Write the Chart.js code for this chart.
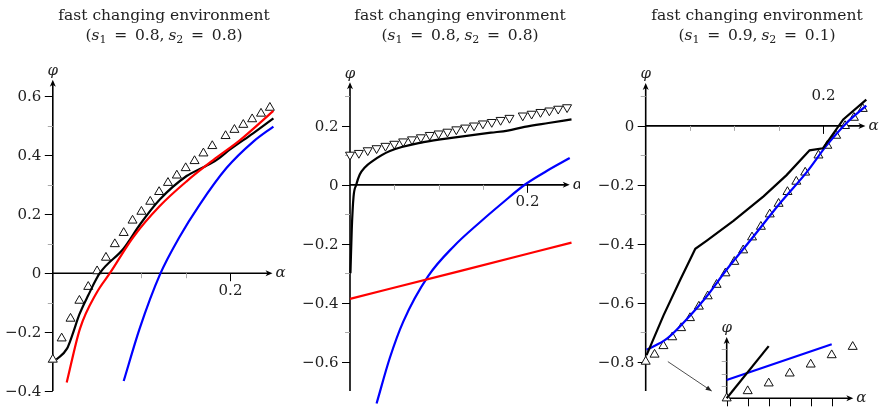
<!DOCTYPE html>
<html lang="en">
<head>
  <meta charset="UTF-8">
  <title>fast changing environment</title>
  <script src="https://cdn.jsdelivr.net/npm/chart.js"></script>
  <style>
    body {
      margin: 0;
      background: #ffffff;
      font-family: 'DejaVu Serif', serif;
    }
    #wrap {
      position: relative;
      width: 880px;
      height: 412px;
    }
    .panel {
      position: absolute;
      top: 0;
      height: 412px;
    }
  </style>
</head>
<body>

<div id="wrap">
  <div class="panel" style="left:0;width:290px"><canvas id="panel1"></canvas></div>
  <div class="panel" style="left:290px;width:290px"><canvas id="panel2"></canvas></div>
  <div class="panel" style="left:580px;width:300px"><canvas id="panel3"></canvas></div>
  <div class="panel" style="left:700px;top:320px;width:180px;height:92px"><canvas id="inset"></canvas></div>
</div>

<script>
  // alpha positions of the triangle marks (shared by all panels)
  const alphaMarks = [0, 0.01, 0.02, 0.03, 0.04, 0.05, 0.06, 0.07, 0.08, 0.09, 0.10, 0.11, 0.12,
    0.13, 0.14, 0.15, 0.16, 0.17, 0.18, 0.195, 0.205, 0.215, 0.225, 0.235, 0.245];

  // panel 1 (s1 = 0.8, s2 = 0.8)
  const phiMarks1 = [-0.293, -0.221, -0.154, -0.093, -0.046, 0.007, 0.053, 0.099, 0.137, 0.179, 0.209, 0.243,
    0.276, 0.307, 0.332, 0.357, 0.381, 0.407, 0.432, 0.466, 0.487, 0.504, 0.523, 0.542, 0.562];
  const blackAlpha1 = [0.004, 0.016, 0.022, 0.03, 0.04, 0.053, 0.08, 0.099, 0.121, 0.151, 0.17, 0.185, 0.2, 0.226, 0.249];
  const blackPhi1 = [-0.293, -0.256, -0.21, -0.14, -0.075, 0, 0.084, 0.168, 0.251, 0.33, 0.36, 0.385, 0.42, 0.475, 0.526];
  const redAlpha1 = [0.0157, 0.0307, 0.0495, 0.0646, 0.0909, 0.121, 0.151, 0.181, 0.211, 0.249];
  const redPhi1 = [-0.371, -0.188, -0.066, 0.001, 0.123, 0.229, 0.312, 0.384, 0.451, 0.551];
  const blueAlpha1 = [0.080, 0.098, 0.121, 0.143, 0.166, 0.196, 0.226, 0.249];
  const bluePhi1 = [-0.366, -0.188, -0.004, 0.123, 0.234, 0.357, 0.446, 0.498];

  // panel 2 (s1 = 0.8, s2 = 0.8)
  const phiMarks2 = [0.102, 0.108, 0.117, 0.124, 0.132, 0.139, 0.147, 0.154, 0.161, 0.169, 0.174, 0.180,
    0.188, 0.194, 0.201, 0.208, 0.213, 0.220, 0.227, 0.235, 0.241, 0.247, 0.252, 0.258, 0.263];
  const blackAlpha2 = [0.0005, 0.002, 0.004, 0.007, 0.011, 0.017, 0.025, 0.045, 0.083, 0.121, 0.159, 0.178, 0.197, 0.224, 0.25];
  const blackPhi2 = [-0.3, -0.15, -0.04, 0, 0.035, 0.06, 0.08, 0.115, 0.145, 0.162, 0.177, 0.184, 0.197, 0.21, 0.222];
  const redAlpha2 = [0, 0.125, 0.25];
  const redPhi2 = [-0.387, -0.292, -0.196];
  const blueAlpha2 = [0.030, 0.045, 0.060, 0.0884, 0.117, 0.147, 0.173, 0.198, 0.222, 0.248];
  const bluePhi2 = [-0.742, -0.587, -0.465, -0.309, -0.209, -0.126, -0.059, 0.002, 0.047, 0.091];

  // panel 3 (s1 = 0.9, s2 = 0.1)
  const phiMarks3 = [-0.8, -0.776, -0.747, -0.717, -0.686, -0.652, -0.613, -0.578, -0.539, -0.5, -0.461, -0.422,
    -0.378, -0.342, -0.3, -0.264, -0.224, -0.189, -0.158, -0.1, -0.067, -0.033, 0, 0.028, 0.058];
  const blackAlpha3 = [0.001, 0.02, 0.039, 0.056, 0.069, 0.099, 0.133, 0.159, 0.185, 0.2, 0.223, 0.249];
  const blackPhi3 = [-0.778, -0.644, -0.522, -0.417, -0.389, -0.322, -0.239, -0.167, -0.083, -0.076, 0.022, 0.089];
  const blueAlpha3 = [0.001, 0.024, 0.05, 0.069, 0.091, 0.118, 0.152, 0.182, 0.204, 0.227, 0.249];
  const bluePhi3 = [-0.76, -0.722, -0.644, -0.578, -0.489, -0.389, -0.261, -0.156, -0.067, 0.011, 0.069];

  // zoomed inset near the origin of panel 3 (in tick units)
  const insetMarksX = [0, 1, 2, 3, 4, 5, 6];
  const insetMarksY = [0, 0.59, 1.22, 2.03, 2.76, 3.52, 4.2];
  const insetBlueX = [0, 5];
  const insetBlueY = [1.49, 4.41];
  const insetBlackX = [0, 2];
  const insetBlackY = [0, 4.25];

  // tick labels
  const yTicks1 = [0.6, 0.4, 0.2, 0, -0.2, -0.4];
  const yTicks2 = [0.2, 0, -0.2, -0.4, -0.6];
  const yTicks3 = [0, -0.2, -0.4, -0.6, -0.8];
  const xTicks = [0.2];
  const xMinor = [0.05, 0.1, 0.15];

  const FONT = '"DejaVu Serif", serif';
  const pts = (xs, ys) => xs.map((x, i) => ({ x: x, y: ys[i] }));
  const fmt = v => (v < 0 ? '\u2212' : '') + (v === 0 ? '0' : Math.abs(v).toFixed(1));

  function arrowHead(ctx, x, y, dir) {
    ctx.beginPath();
    if (dir === 'right') {
      ctx.moveTo(x, y); ctx.lineTo(x - 7, y - 3); ctx.lineTo(x - 5, y); ctx.lineTo(x - 7, y + 3);
    } else {
      ctx.moveTo(x, y); ctx.lineTo(x - 3, y + 7); ctx.lineTo(x, y + 5); ctx.lineTo(x + 3, y + 7);
    }
    ctx.closePath();
    ctx.fill();
  }

  function drawTitle(ctx, cx, s1, s2) {
    ctx.fillStyle = '#222';
    ctx.textBaseline = 'alphabetic';
    ctx.textAlign = 'center';
    ctx.font = '15.5px ' + FONT;
    ctx.fillText('fast changing environment', cx, 20);
    const sp = '\u2002';
    const parts = [
      ['(', '15.5px ' + FONT, 0], ['s', 'italic 15.5px ' + FONT, 0], ['1', '11px ' + FONT, 3],
      [sp + '=' + sp + s1 + ',\u2005', '15.5px ' + FONT, 0], ['s', 'italic 15.5px ' + FONT, 0], ['2', '11px ' + FONT, 3],
      [sp + '=' + sp + s2 + ')', '15.5px ' + FONT, 0]
    ];
    let w = 0;
    parts.forEach(p => { ctx.font = p[1]; w += ctx.measureText(p[0]).width; });
    let x = cx - w / 2;
    ctx.textAlign = 'left';
    parts.forEach(p => {
      ctx.font = p[1];
      ctx.fillText(p[0], x, 40 + p[2]);
      x += ctx.measureText(p[0]).width;
    });
  }

  // pgfplots-like "axis lines = middle" drawing
  function texAxes(cfg) {
    return {
      id: 'texAxes',
      beforeDatasetsDraw(chart) {
        const ctx = chart.ctx;
        const xs = chart.scales.x, ys = chart.scales.y;
        const x0 = xs.getPixelForValue(0), y0 = ys.getPixelForValue(0);
        ctx.save();
        ctx.strokeStyle = '#000';
        ctx.fillStyle = '#000';
        ctx.lineWidth = 1.6;
        // y axis
        ctx.beginPath();
        ctx.moveTo(x0, ys.getPixelForValue(cfg.yBottom));
        ctx.lineTo(x0, ys.getPixelForValue(cfg.yTip) + 4);
        ctx.stroke();
        arrowHead(ctx, x0, ys.getPixelForValue(cfg.yTip), 'up');
        // x axis
        ctx.beginPath();
        ctx.moveTo(x0, y0);
        ctx.lineTo(xs.getPixelForValue(cfg.xTip) - 4, y0);
        ctx.stroke();
        arrowHead(ctx, xs.getPixelForValue(cfg.xTip), y0, 'right');

        // minor ticks
        ctx.strokeStyle = '#aaa';
        ctx.lineWidth = 1;
        cfg.yMinor.forEach(v => {
          const y = Math.round(ys.getPixelForValue(v)) + 0.5;
          ctx.beginPath(); ctx.moveTo(x0 - 5, y); ctx.lineTo(x0, y); ctx.stroke();
        });
        (cfg.xMinor || []).forEach(v => {
          const x = Math.round(xs.getPixelForValue(v)) + 0.5;
          ctx.beginPath(); ctx.moveTo(x, y0); ctx.lineTo(x, y0 + 5); ctx.stroke();
        });

        // major ticks and labels
        ctx.strokeStyle = '#000';
        ctx.lineWidth = 1;
        ctx.font = '15px ' + FONT;
        ctx.fillStyle = '#222';
        ctx.textAlign = 'right';
        ctx.textBaseline = 'middle';
        (cfg.yMajor || []).forEach(v => {
          const y = Math.round(ys.getPixelForValue(v)) + 0.5;
          ctx.beginPath(); ctx.moveTo(x0 - 8, y); ctx.lineTo(x0, y); ctx.stroke();
          if (cfg.yLabels) ctx.fillText(fmt(v), x0 - 11.5, y + 1);
        });
        ctx.textAlign = 'center';
        (cfg.xMajor || []).forEach(v => {
          const x = Math.round(xs.getPixelForValue(v)) + 0.5;
          ctx.beginPath(); ctx.moveTo(x, y0); ctx.lineTo(x, y0 + 8); ctx.stroke();
          if (cfg.xLabels) {
            if (cfg.xLabelAbove) {
              ctx.textBaseline = 'alphabetic';
              ctx.fillText(fmt(v), x, y0 - 26);
            } else {
              ctx.textBaseline = 'top';
              ctx.fillText(fmt(v), x, y0 + 10);
            }
          }
        });

        // axis names
        ctx.font = 'italic ' + cfg.nameSize + 'px ' + FONT;
        ctx.textAlign = 'left';
        ctx.textBaseline = 'middle';
        ctx.fillText('\u03b1', xs.getPixelForValue(cfg.xTip) + 3, y0);
        ctx.textAlign = 'center';
        ctx.textBaseline = 'bottom';
        ctx.fillText('\u03c6', x0, ys.getPixelForValue(cfg.yTip) - 1);

        // pointer to the inset
        if (cfg.pointer) {
          const p = cfg.pointer;
          const ax = xs.getPixelForValue(p[0]), ay = ys.getPixelForValue(p[1]);
          const bx = xs.getPixelForValue(p[2]), by = ys.getPixelForValue(p[3]);
          ctx.strokeStyle = '#222';
          ctx.fillStyle = '#222';
          ctx.lineWidth = 0.8;
          ctx.beginPath(); ctx.moveTo(ax, ay); ctx.lineTo(bx, by); ctx.stroke();
          const ang = Math.atan2(by - ay, bx - ax);
          ctx.beginPath();
          ctx.moveTo(bx, by);
          ctx.lineTo(bx - 6 * Math.cos(ang) + 2.5 * Math.sin(ang), by - 6 * Math.sin(ang) - 2.5 * Math.cos(ang));
          ctx.lineTo(bx - 6 * Math.cos(ang) - 2.5 * Math.sin(ang), by - 6 * Math.sin(ang) + 2.5 * Math.cos(ang));
          ctx.closePath();
          ctx.fill();
        }
        ctx.restore();
      },
      afterDraw(chart) {
        if (cfg.title) drawTitle(chart.ctx, cfg.title[0], cfg.title[1], cfg.title[2]);
      }
    };
  }

  function curve(xs, ys, color, smooth) {
    return {
      data: pts(xs, ys),
      borderColor: color,
      borderWidth: 2.2,
      pointRadius: 0,
      fill: false,
      clip: false,
      tension: smooth ? 0.4 : 0,
      cubicInterpolationMode: smooth ? 'monotone' : 'default',
      order: 0
    };
  }

  function marks(xs, ys, rotation, radius) {
    return {
      data: pts(xs, ys),
      showLine: false,
      pointStyle: 'triangle',
      pointRotation: rotation,
      pointRadius: radius,
      pointBorderWidth: 1,
      pointBorderColor: '#111',
      pointBackgroundColor: '#ffffff',
      clip: false,
      order: 5
    };
  }

  function options(pad, xMax, yMin, yMax) {
    return {
      responsive: true,
      maintainAspectRatio: false,
      animation: false,
      events: [],
      layout: { padding: pad },
      plugins: { legend: { display: false }, tooltip: { enabled: false } },
      scales: {
        x: { type: 'linear', display: false, min: 0, max: xMax },
        y: { type: 'linear', display: false, min: yMin, max: yMax }
      }
    };
  }

  // 1) left panel
  new Chart(document.getElementById('panel1'), {
    type: 'line',
    data: {
      datasets: [
        marks(alphaMarks, phiMarks1, 0, 5.2),
        curve(redAlpha1, redPhi1, '#ff0000', true),
        curve(blueAlpha1, bluePhi1, '#0000ff', true),
        curve(blackAlpha1, blackPhi1, '#000000', true)
      ]
    },
    options: options({ left: 52.8, right: 15.7, top: 67, bottom: 0 }, 0.25, -0.45, 0.7),
    plugins: [texAxes({
      yBottom: -0.4, yTip: 0.657, xTip: 0.248, nameSize: 15,
      yMajor: yTicks1, yMinor: [0.5, 0.3, 0.1, -0.1, -0.3], yLabels: true,
      xMajor: xTicks, xMinor: xMinor, xLabels: true, xLabelAbove: false,
      title: [164, '0.8', '0.8']
    })]
  });

  // 2) middle panel
  new Chart(document.getElementById('panel2'), {
    type: 'line',
    data: {
      datasets: [
        marks(alphaMarks, phiMarks2, 180, 5.2),
        curve(redAlpha2, redPhi2, '#ff0000', true),
        curve(blueAlpha2, bluePhi2, '#0000ff', true),
        curve(blackAlpha2, blackPhi2, '#000000', true)
      ]
    },
    options: options({ left: 60, right: 8.5, top: 67, bottom: 0 }, 0.25, -0.75, 0.4),
    plugins: [texAxes({
      yBottom: -0.7, yTip: 0.348, xTip: 0.248, nameSize: 15,
      yMajor: yTicks2, yMinor: [0.3, 0.1, -0.1, -0.3, -0.5], yLabels: true,
      xMajor: xTicks, xMinor: xMinor, xLabels: true, xLabelAbove: false,
      title: [170, '0.8', '0.8']
    })]
  });

  // 3) right panel
  new Chart(document.getElementById('panel3'), {
    type: 'line',
    data: {
      datasets: [
        marks(alphaMarks, phiMarks3, 0, 5.2),
        curve(blackAlpha3, blackPhi3, '#000000', false),
        curve(blueAlpha3, bluePhi3, '#0000ff', true)
      ]
    },
    options: options({ left: 65.7, right: 12.8, top: 67, bottom: 0 }, 0.25, -0.95, 0.2),
    plugins: [texAxes({
      yBottom: -0.9, yTip: 0.146, xTip: 0.248, nameSize: 15,
      yMajor: yTicks3, yMinor: [0.1, -0.1, -0.3, -0.5, -0.7], yLabels: true,
      xMajor: xTicks, xMinor: xMinor, xLabels: true, xLabelAbove: true,
      pointer: [0.025, -0.8, 0.0745, -0.9],
      title: [177, '0.9', '0.1']
    })]
  });

  // 4) inset
  new Chart(document.getElementById('inset'), {
    type: 'line',
    data: {
      datasets: [
        marks(insetMarksX, insetMarksY, 0, 5.2),
        curve(insetBlackX, insetBlackY, '#000000', false),
        curve(insetBlueX, insetBlueY, '#0000ff', false)
      ]
    },
    options: options({ left: 26.7, right: 14.7, top: 14.5, bottom: 13.7 }, 6.6, 0, 5.2),
    plugins: [texAxes({
      yBottom: 0, yTip: 5, xTip: 6.03, nameSize: 15,
      yMajor: [], yMinor: [1, 2, 3, 4], yLabels: false,
      xMajor: [0, 1, 2, 3, 4, 5], xMinor: [], xLabels: false
    })]
  });
</script>

</body>
</html>
